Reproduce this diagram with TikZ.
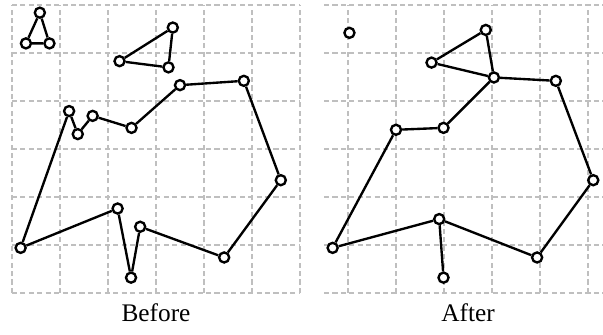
\documentclass[tikz,border=0pt]{standalone}
\usepackage{fontspec}
\setmainfont{Liberation Serif}
\tikzstyle{dot}=[shape=circle,minimum size=2.1mm,inner sep=0,line width=1.4pt,draw,fill=white]
\tikzstyle{edge}=[line width=1.4pt]
\tikzstyle{gridline}=[gray!50,line width=0.8pt,dash pattern=on 3pt off 2pt]
\tikzstyle{caption}=[font=\fontsize{15}{17}\selectfont]

\begin{document}
\begin{tikzpicture}
\useasboundingbox (-0.25,-0.875) rectangle (12.3125,6.104);
\clip (-0.25,-0.875) rectangle (12.3125,6.104);
\foreach \s in {0,6.5}{
	\draw[gridline] (\s,0) grid (\s+6,6);
	}
\node[caption] (before) at (3,-0.42) {Before};
\node[caption] (after) at (9.5,-0.42) {After};

\begin{scope}
\node[dot] (t1) at (0.58,5.84) {};
\node[dot] (t2) at (0.29,5.20) {};
\node[dot] (t3) at (0.78,5.20) {};
\node[dot] (s1) at (2.24,4.83) {};
\node[dot] (s2) at (3.35,5.53) {};
\node[dot] (s3) at (3.26,4.70) {};
\node[dot] (p1) at (0.18,0.94) {};
\node[dot] (p2) at (1.19,3.79) {};
\node[dot] (p3) at (1.37,3.31) {};
\node[dot] (p4) at (1.68,3.69) {};
\node[dot] (p5) at (2.49,3.44) {};
\node[dot] (p6) at (3.50,4.33) {};
\node[dot] (p7) at (4.83,4.42) {};
\node[dot] (p8) at (5.60,2.35) {};
\node[dot] (p9) at (4.42,0.74) {};
\node[dot] (p10) at (2.67,1.38) {};
\node[dot] (p11) at (2.48,0.32) {};
\node[dot] (p12) at (2.20,1.76) {};
\draw[edge] (t1)--(t2)--(t3)--(t1);
\draw[edge] (s1)--(s2)--(s3)--(s1);
\draw[edge] (p1)--(p2)--(p3)--(p4)--(p5)--(p6)--(p7)--(p8)--(p9)--(p10)--(p11)--(p12)--(p1);
\end{scope}

\begin{scope}[xshift=6.5cm]
\node[dot] (q0) at (0.53,5.42) {};
\node[dot] (r1) at (2.24,4.80) {};
\node[dot] (r2) at (3.37,5.48) {};
\node[dot] (r3) at (3.54,4.49) {};
\node[dot] (r4) at (4.83,4.42) {};
\node[dot] (r5) at (5.61,2.35) {};
\node[dot] (r6) at (4.44,0.74) {};
\node[dot] (r7) at (2.40,1.54) {};
\node[dot] (r8) at (2.49,0.32) {};
\node[dot] (r9) at (0.18,0.94) {};
\node[dot] (r10) at (1.50,3.40) {};
\node[dot] (r11) at (2.49,3.44) {};
\draw[edge] (r2)--(r1)--(r3)--(r2);
\draw[edge] (r3)--(r4)--(r5)--(r6)--(r7)--(r9)--(r10)--(r11)--(r3);
\draw[edge] (r7)--(r8);
\end{scope}
\end{tikzpicture}
\end{document}
